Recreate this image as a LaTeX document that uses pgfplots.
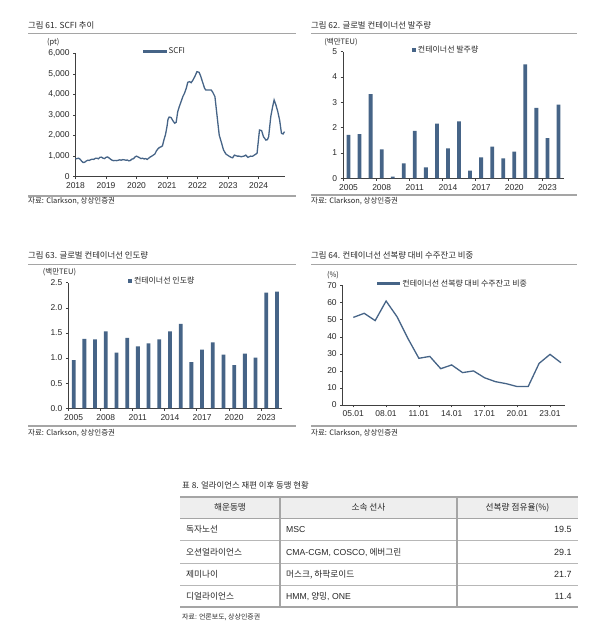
\documentclass[border=0pt]{standalone}
\usepackage{fontspec}
\setmainfont{Liberation Sans}
\newfontfamily\kr{Noto Sans CJK KR}
\usepackage{pgfplots}
\pgfplotsset{compat=1.18}

\definecolor{ser}{RGB}{70,100,135}
\definecolor{rulec}{RGB}{165,165,165}
\definecolor{txt}{RGB}{40,40,40}
\definecolor{hdr}{RGB}{238,238,238}

\pgfplotsset{
  panel/.style={
    scale only axis, anchor=south west,
    axis lines*=left,
    axis line style={black!75, line width=0.6bp},
    tick align=outside, major tick length=2.5bp, minor tick length=2.5bp,
    tick style={black!75, line width=0.6bp},
    tick label style={font=\fontsize{8.5}{10}\selectfont, text=txt},
    /pgf/number format/assume math mode=true,
    legend style={draw=none, fill=none, inner sep=0pt, anchor=west,
      font=\kr\fontsize{8}{9}\selectfont, text=txt},
    clip=false,
  },
  barleg/.style={legend image code/.code={\fill[ser] (0bp,-2.3bp) rectangle (3.8bp,2.3bp);}},
  lineleg/.style={legend image code/.code={\fill[ser] (0bp,-0.7bp) rectangle (22bp,0.7bp);}},
}

\newcommand\ttl[3]{\node[anchor=west, inner sep=0pt, font=\kr\fontsize{8.4}{10}\selectfont, text=txt] at (#1,#2) {#3};}
\newcommand\src[3]{\node[anchor=west, inner sep=0pt, font=\kr\fontsize{7.5}{9}\selectfont, text=txt] at (#1,#2) {#3};}
\newcommand\unit[3]{\node[inner sep=0pt, font=\kr\fontsize{7.5}{9}\selectfont, text=txt] at (#1,#2) {#3};}

\begin{document}
\begin{tikzpicture}[x=1bp, y=1bp]
\fill[white] (0,0) rectangle (600,639);
\path[use as bounding box] (0,0) rectangle (600,639);

% ---------- 그림 61
\ttl{28}{614}{그림 61. SCFI 추이}
\draw[rulec, line width=1.2bp] (28,605.7) -- (296,605.7);
\draw[rulec, line width=1.2bp] (28,443) -- (296,443);
\src{28}{437.5}{자료: Clarkson, 상상인증권}
\unit{53.3}{596.3}{(pt)}
\begin{axis}[panel,
  at={(75.5bp,462.3bp)}, width=209bp, height=123.4bp,
  xmin=2018, xmax=2024.85, ymin=0, ymax=6000,
  xtick={2018,...,2024}, ytick={0,1000,...,6000},
  x tick label style={/pgf/number format/1000 sep={}},
  lineleg, legend style={at={(0.323,1.013)}},
]
\addplot[ser, line width=1.3bp] coordinates {
(2018.00,870)(2018.05,880)(2018.10,900)(2018.15,850)(2018.20,760)(2018.25,690)
(2018.30,700)(2018.35,760)(2018.40,800)(2018.45,790)(2018.50,830)(2018.55,850)
(2018.60,840)(2018.65,890)(2018.70,900)(2018.75,870)(2018.80,940)(2018.85,950)
(2018.90,900)(2018.95,880)(2019.00,940)(2019.05,960)(2019.10,910)(2019.15,850)
(2019.20,800)(2019.25,780)(2019.30,790)(2019.35,780)(2019.40,800)(2019.45,820)
(2019.50,800)(2019.55,830)(2019.60,820)(2019.65,800)(2019.70,810)(2019.75,770)
(2019.80,790)(2019.85,860)(2019.90,870)(2019.95,960)(2020.00,1000)(2020.05,960)
(2020.10,920)(2020.15,880)(2020.20,900)(2020.25,860)(2020.30,880)(2020.35,840)
(2020.40,900)(2020.45,960)(2020.50,1000)(2020.55,1050)(2020.60,1100)(2020.65,1250)
(2020.70,1350)(2020.75,1420)(2020.80,1450)(2020.85,1500)(2020.90,1800)(2020.95,2050)
(2021.00,2450)(2021.03,2780)(2021.07,2900)(2021.13,2880)(2021.20,2700)(2021.25,2600)
(2021.30,2650)(2021.35,3160)(2021.40,3400)(2021.46,3650)(2021.52,3900)(2021.57,4050)
(2021.63,4300)(2021.68,4590)(2021.74,4620)(2021.79,4570)(2021.85,4700)(2021.92,4900)
(2021.98,5105)(2022.05,5075)(2022.10,4900)(2022.16,4620)(2022.23,4300)(2022.27,4210)
(2022.38,4210)(2022.45,4210)(2022.50,4100)(2022.57,3890)(2022.63,3080)(2022.71,2025)
(2022.79,1620)(2022.85,1300)(2022.93,1100)(2023.03,1000)(2023.10,940)(2023.15,920)
(2023.21,1050)(2023.30,1000)(2023.36,1000)(2023.43,970)(2023.52,1000)(2023.58,1050)
(2023.65,940)(2023.74,1000)(2023.80,990)(2023.86,1050)(2023.95,1135)(2024.03,2270)
(2024.10,2240)(2024.16,1945)(2024.24,1780)(2024.29,1800)(2024.33,1945)(2024.40,2920)
(2024.46,3400)(2024.51,3730)(2024.57,3480)(2024.63,3160)(2024.69,2750)(2024.75,2110)
(2024.80,2075)(2024.85,2190)
};
\addlegendentry{SCFI}
\end{axis}

% ---------- 그림 62
\ttl{311}{614}{그림 62. 글로벌 컨테이너선 발주량}
\draw[rulec, line width=1.2bp] (311,605.7) -- (577,605.7);
\draw[rulec, line width=1.2bp] (311,444) -- (577,444);
\src{311}{438}{자료: Clarkson, 상상인증권}
\unit{341}{597.3}{(백만TEU)}
\begin{axis}[panel,
  at={(343bp,460.7bp)}, width=221bp, height=126.7bp,
  xmin=2004.5, xmax=2024.5, ymin=0, ymax=5,
  ybar, bar width=3.8bp,
  xtick={2005,2008,...,2023}, ytick={0,...,5},
  minor xtick={2004.5,2007.5,...,2022.5},
  major x tick style={draw=none},
  x tick label style={/pgf/number format/1000 sep={}},
  barleg, legend style={at={(0.312,1.013)}},
]
\addplot[fill=ser, draw=none] coordinates {
(2005,1.71)(2006,1.74)(2007,3.32)(2008,1.14)(2009,0.07)(2010,0.59)(2011,1.87)
(2012,0.43)(2013,2.16)(2014,1.18)(2015,2.25)(2016,0.30)(2017,0.83)(2018,1.25)
(2019,0.79)(2020,1.05)(2021,4.50)(2022,2.78)(2023,1.58)(2024,2.91)
};
\addlegendentry{컨테이너선 발주량}
\end{axis}

% ---------- 그림 63
\ttl{28}{383.3}{그림 63. 글로벌 컨테이너선 인도량}
\draw[rulec, line width=1.2bp] (28,374.7) -- (296,374.7);
\draw[rulec, line width=1.2bp] (28,213) -- (296,213);
\src{28}{206}{자료: Clarkson, 상상인증권}
\unit{59.5}{366.7}{(백만TEU)}
\begin{axis}[panel,
  at={(68.3bp,230.7bp)}, width=214bp, height=125.6bp,
  xmin=2004.5, xmax=2024.5, ymin=0, ymax=2.5,
  ybar, bar width=3.8bp,
  xtick={2005,2008,...,2023}, ytick={0,0.5,...,2.5},
  minor xtick={2004.5,2007.5,...,2022.5},
  major x tick style={draw=none},
  x tick label style={/pgf/number format/1000 sep={}},
  y tick label style={/pgf/number format/.cd, fixed, fixed zerofill, precision=1},
  barleg, legend style={at={(0.279,1.013)}},
]
\addplot[fill=ser, draw=none] coordinates {
(2005,0.96)(2006,1.38)(2007,1.37)(2008,1.53)(2009,1.11)(2010,1.40)(2011,1.23)
(2012,1.29)(2013,1.37)(2014,1.53)(2015,1.68)(2016,0.92)(2017,1.17)(2018,1.31)
(2019,1.07)(2020,0.86)(2021,1.09)(2022,1.01)(2023,2.30)(2024,2.32)
};
\addlegendentry{컨테이너선 인도량}
\end{axis}

% ---------- 그림 64
\ttl{311}{383.3}{그림 64. 컨테이너선 선복량 대비 수주잔고 비중}
\draw[rulec, line width=1.2bp] (311,374.7) -- (577,374.7);
\draw[rulec, line width=1.2bp] (311,213) -- (577,213);
\src{311}{205.5}{자료: Clarkson, 상상인증권}
\unit{333}{364}{(\%)}
\begin{axis}[panel,
  at={(342.7bp,234bp)}, width=222.6bp, height=119.3bp,
  xmin=2004.03, xmax=2024.4, ymin=0, ymax=70,
  xtick={2005,2008,...,2023},
  xticklabels={05.01,08.01,11.01,14.01,17.01,20.01,23.01},
  ytick={0,10,...,70},
  lineleg, legend style={at={(0.154,1.017)}},
]
\addplot[ser, line width=1.3bp] coordinates {
(2005,51.4)(2006,53.8)(2007,49.5)(2008,61.0)(2009,51.8)(2010,39.0)(2011,27.4)
(2012,28.5)(2013,21.3)(2014,23.5)(2015,19.0)(2016,20.0)(2017,16.0)(2018,13.7)
(2019,12.5)(2020,10.8)(2021,10.8)(2022,24.4)(2023,29.7)(2024,24.8)
};
\addlegendentry{컨테이너선 선복량 대비 수주잔고 비중}
\end{axis}

% ---------- 표 8
\ttl{182}{154}{표 8. 얼라이언스 재편 이후 동맹 현황}
\fill[hdr] (180,142.3) rectangle (578,120.7);
\draw[rulec!80, line width=1bp] (180,98) -- (578,98) (180,75.7) -- (578,75.7) (180,53.7) -- (578,53.7);
\draw[rulec, line width=1.4bp] (180,120.7) -- (578,120.7);
\draw[rulec, line width=1.8bp] (180,142.3) -- (578,142.3);
\draw[rulec, line width=1.8bp] (180,31.7) -- (578,31.7);
\draw[rulec, line width=1.1bp] (280,142.3) -- (280,31.7) (457,142.3) -- (457,31.7);
\begin{scope}[every node/.style={inner sep=0pt, font=\kr\fontsize{8.7}{10}\selectfont, text=txt}]
\node at (230,131.5) {해운동맹};
\node at (368.5,131.5) {소속 선사};
\node at (517.5,131.5) {선복량 점유율(\%)};
\node[anchor=west] at (186,109.35) {독자노선};
\node[anchor=west] at (186,86.85) {오션얼라이언스};
\node[anchor=west] at (186,64.7) {제미나이};
\node[anchor=west] at (186,42.7) {디얼라이언스};
\node[anchor=west] at (286,109.35) {\rmfamily MSC};
\node[anchor=west] at (286,86.85) {{\rmfamily CMA-CGM, COSCO,} 에버그린};
\node[anchor=west] at (286,64.7) {머스크, 하팍로이드};
\node[anchor=west] at (286,42.7) {{\rmfamily HMM,} 양밍{\rmfamily , ONE}};
\node[anchor=east, font=\fontsize{9}{10}\selectfont] at (571.7,109.35) {19.5};
\node[anchor=east, font=\fontsize{9}{10}\selectfont] at (571.7,86.85) {29.1};
\node[anchor=east, font=\fontsize{9}{10}\selectfont] at (571.7,64.7) {21.7};
\node[anchor=east, font=\fontsize{9}{10}\selectfont] at (571.7,42.7) {11.4};
\end{scope}
\node[anchor=west, inner sep=0pt, font=\kr\fontsize{7}{9}\selectfont, text=txt] at (182,22) {자료: 언론보도, 상상인증권};
\end{tikzpicture}
\end{document}
